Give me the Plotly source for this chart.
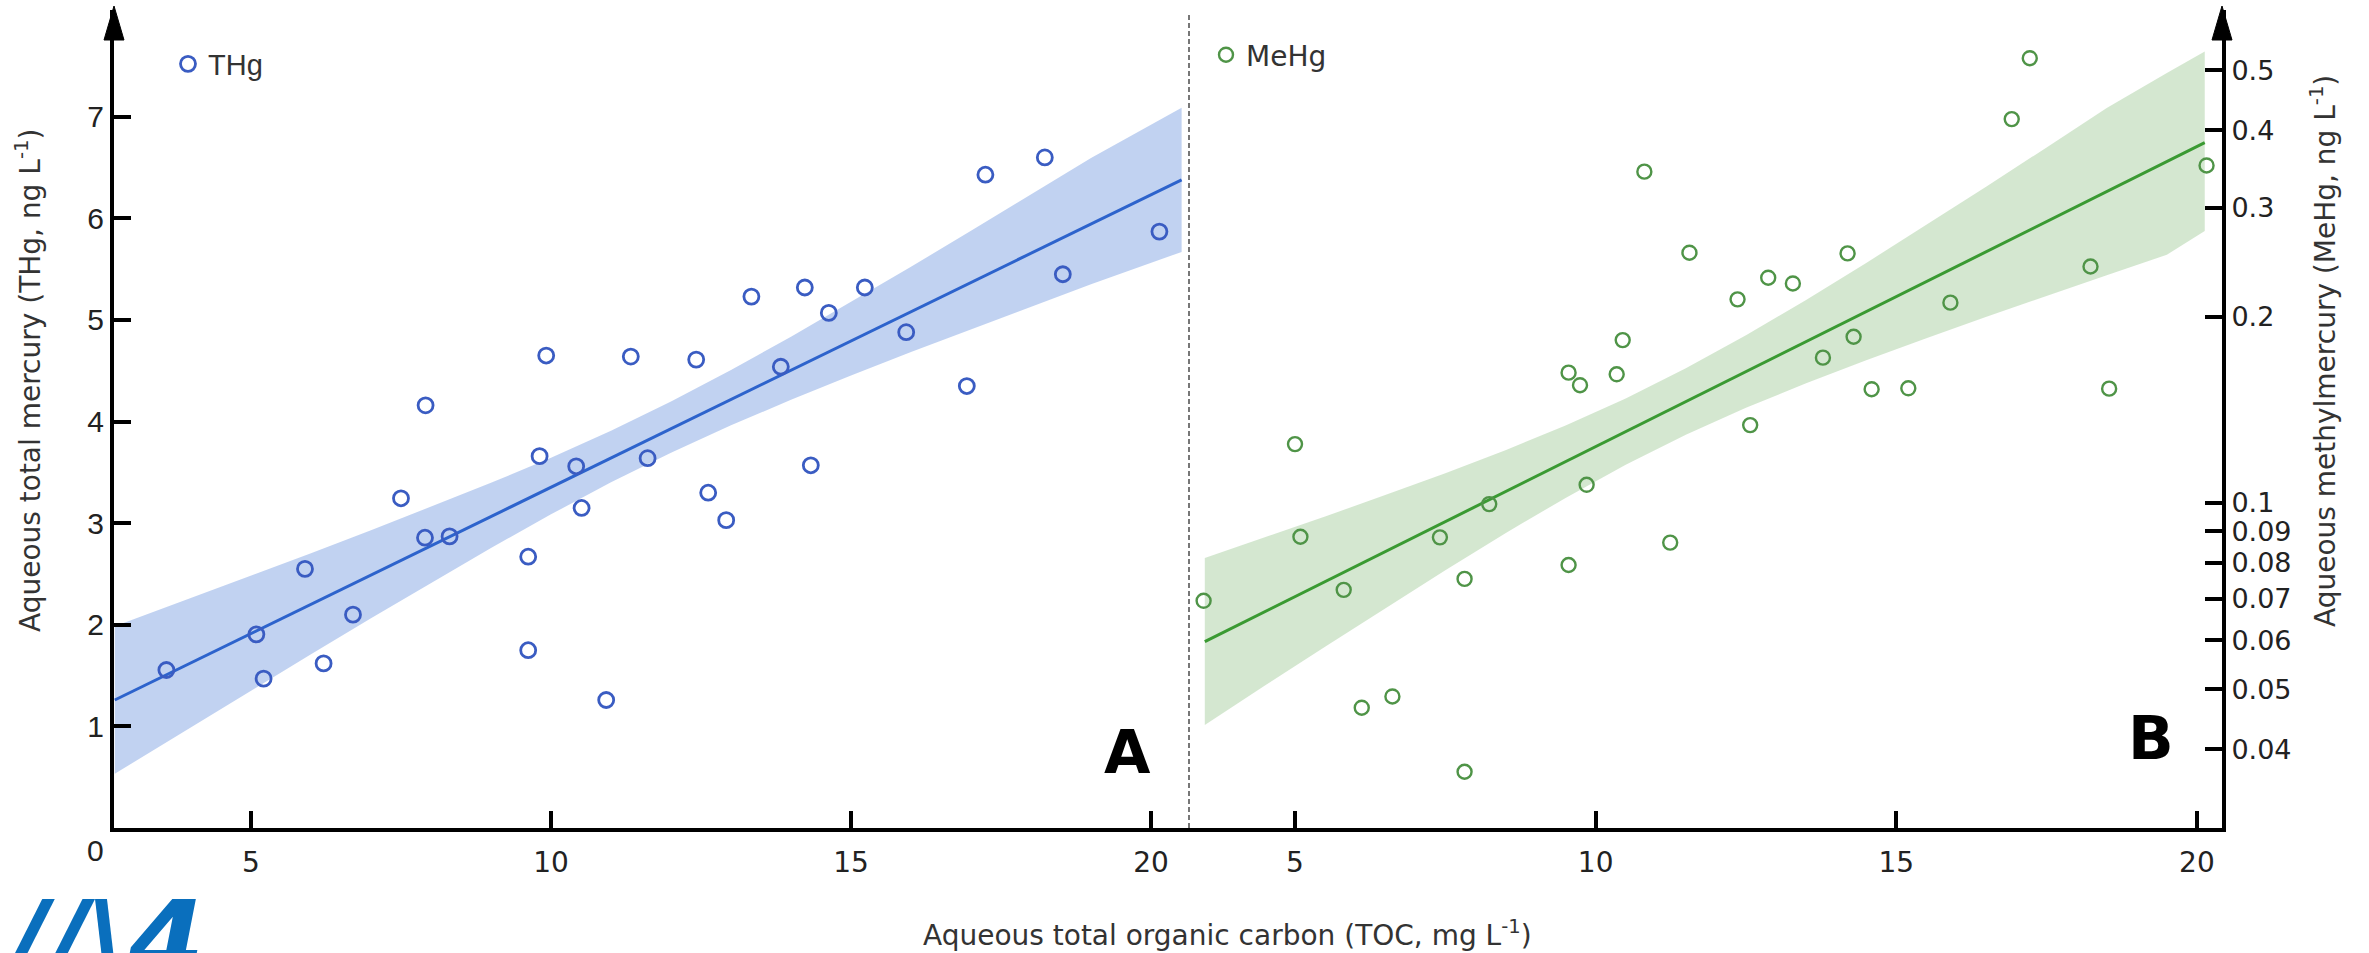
import plotly.graph_objects as go

# ---------------- data ----------------
toc_thg = [3.59, 5.09, 5.21, 5.90, 6.21, 6.70, 7.50, 7.90, 8.31, 9.62, 9.62, 9.81,
           10.42, 10.51, 10.92, 7.91, 9.92, 11.33, 12.42, 13.34, 14.23, 14.63, 15.23,
           13.83, 15.92, 16.93, 17.24, 18.23, 18.53, 20.14, 11.61, 12.62, 14.33, 12.92]
thg = [1.555, 1.906, 1.47, 2.55, 1.62, 2.10, 3.245, 2.857, 2.87, 2.67, 1.75, 3.66,
       3.56, 3.15, 1.26, 4.16, 4.65, 4.64, 4.61, 5.23, 5.32, 5.07, 5.32,
       4.54, 4.88, 4.35, 6.43, 6.60, 5.45, 5.87, 3.64, 3.30, 3.57, 3.03]

thg_fit_x = [2.73, 20.51]
thg_fit_y = [1.26, 6.38]
thg_band_x = [2.73, 4, 5, 6, 7, 8, 9, 10, 11, 12, 13, 14, 15, 16, 17, 18, 19, 20.51]
thg_band_lo = [0.534, 0.993, 1.353, 1.710, 2.064, 2.414, 2.757, 3.087, 3.402, 3.694,
               3.963, 4.214, 4.453, 4.684, 4.910, 5.132, 5.352, 5.67]
thg_band_hi = [1.986, 2.263, 2.483, 2.705, 2.930, 3.160, 3.397, 3.645, 3.910, 4.198,
               4.507, 4.836, 5.176, 5.524, 5.878, 6.235, 6.594, 7.09]

toc_mehg = [3.48, 5.00, 5.09, 5.81, 6.11, 6.62, 7.41, 7.82, 7.82, 8.23, 9.55, 9.55,
            9.74, 9.85, 10.35, 10.45, 10.81, 11.24, 11.56, 12.36, 12.57, 12.87, 13.28,
            13.78, 14.19, 14.29, 14.59, 15.20, 15.90, 16.92, 17.22, 18.23, 18.54, 20.16]
mehg = [0.0695, 0.1245, 0.0882, 0.0724, 0.0467, 0.0487, 0.088, 0.0754, 0.0368, 0.0996,
        0.0794, 0.1624, 0.155, 0.107, 0.1614, 0.1833, 0.343, 0.0863, 0.2537, 0.2133,
        0.1336, 0.2312, 0.2263, 0.1717, 0.2531, 0.1856, 0.1527, 0.1532, 0.2107, 0.417,
        0.523, 0.241, 0.153, 0.351]

mehg_fit_x = [3.5, 20.13]
mehg_fit_y = [0.0597, 0.382]
mehg_band_x = [3.5, 4.5, 5.5, 6.5, 7.5, 8.5, 9.5, 10.5, 11.5, 12.5, 13.5, 14.5,
               15.5, 16.5, 17.5, 18.5, 19.5, 20.13]
mehg_band_lo = [0.0438, 0.0507, 0.0586, 0.0676, 0.0779, 0.0894, 0.1019, 0.1153, 0.1289,
                0.1425, 0.1561, 0.1701, 0.1846, 0.1999, 0.2161, 0.2334, 0.2519, 0.275]
mehg_band_hi = [0.0815, 0.0880, 0.0951, 0.1030, 0.1117, 0.1217, 0.1334, 0.1475, 0.1650,
                0.1866, 0.2128, 0.2442, 0.2812, 0.3246, 0.3753, 0.4346, 0.4950, 0.536]

x_ticks = [5, 10, 15, 20]
thg_ticks = [1, 2, 3, 4, 5, 6, 7]
mehg_ticks = [0.04, 0.05, 0.06, 0.07, 0.08, 0.09, 0.1, 0.2, 0.3, 0.4, 0.5]
mehg_tick_text = ["0.04", "0.05", "0.06", "0.07", "0.08", "0.09", "0.1", "0.2", "0.3", "0.4", "0.5"]

# ---------------- styling / layout ----------------
W, H = 2369, 953
def px(x):
    return x / W
def py(y):
    return 1 - y / H

BLUE = "#3a5cc2"
BLUE_LINE = "#2d63cc"
BLUE_BAND = "rgba(190,208,240,0.95)"
GREEN = "#4f9447"
GREEN_LINE = "#3a9a32"
GREEN_BAND = "rgba(210,230,206,0.95)"

L0, MID, R1, TOP, BOT = 114, 1189, 2222, 10, 828

fig = go.Figure()

fig.add_trace(go.Scatter(
    x=thg_band_x + thg_band_x[::-1], y=thg_band_hi + thg_band_lo[::-1],
    fill="toself", fillcolor=BLUE_BAND, line=dict(width=0), mode="lines",
    hoverinfo="skip", showlegend=False, xaxis="x", yaxis="y"))
fig.add_trace(go.Scatter(
    x=thg_fit_x, y=thg_fit_y, mode="lines", line=dict(color=BLUE_LINE, width=3),
    showlegend=False, xaxis="x", yaxis="y"))
fig.add_trace(go.Scatter(
    x=toc_thg, y=thg, mode="markers", name="THg",
    marker=dict(symbol="circle-open", size=15, color=BLUE, line=dict(width=2.8)),
    xaxis="x", yaxis="y", legend="legend"))

fig.add_trace(go.Scatter(
    x=mehg_band_x + mehg_band_x[::-1], y=mehg_band_hi + mehg_band_lo[::-1],
    fill="toself", fillcolor=GREEN_BAND, line=dict(width=0), mode="lines",
    hoverinfo="skip", showlegend=False, xaxis="x2", yaxis="y2"))
fig.add_trace(go.Scatter(
    x=mehg_fit_x, y=mehg_fit_y, mode="lines", line=dict(color=GREEN_LINE, width=3),
    showlegend=False, xaxis="x2", yaxis="y2"))
fig.add_trace(go.Scatter(
    x=toc_mehg, y=mehg, mode="markers", name="MeHg",
    marker=dict(symbol="circle-open", size=14, color=GREEN, line=dict(width=2.4)),
    xaxis="x2", yaxis="y2", legend="legend2"))

axis_common = dict(showline=True, linecolor="black", linewidth=4, ticks="inside",
                   ticklen=17, tickwidth=4, tickcolor="black", showgrid=False,
                   zeroline=False, automargin=False)

fig.update_layout(
    width=W, height=H, autosize=False,
    margin=dict(l=0, r=0, t=0, b=0),
    paper_bgcolor="white", plot_bgcolor="white",
    font=dict(family="DejaVu Sans", color="#333"),
    xaxis=dict(domain=[px(L0), px(MID)], range=[2.717, 20.633], anchor="y",
               tickvals=x_ticks, tickfont=dict(size=28, color="#222"),
               ticklabelstandoff=6, **axis_common),
    yaxis=dict(domain=[py(BOT), py(TOP)], range=[0, 8.051], anchor="x", side="left",
               tickvals=thg_ticks,
               tickfont=dict(size=30, color="#222", family="Liberation Sans"),
               **axis_common),
    xaxis2=dict(domain=[px(MID), px(R1)], range=[3.237, 20.417], anchor="y2",
                tickvals=x_ticks, tickfont=dict(size=28, color="#222"),
                ticklabelstandoff=6, **axis_common),
    yaxis2=dict(domain=[py(BOT), py(TOP)], type="log", range=[-1.525, -0.2036],
                anchor="x2", side="right", tickvals=mehg_ticks, ticktext=mehg_tick_text,
                tickfont=dict(size=27, color="#222"), **axis_common),
    legend=dict(x=px(168), y=py(64), xanchor="left", yanchor="middle",
                bgcolor="rgba(0,0,0,0)", font=dict(size=29, family="Liberation Sans", color="#333"),
                itemsizing="trace"),
    legend2=dict(x=px(1206), y=py(55), xanchor="left", yanchor="middle",
                 bgcolor="rgba(0,0,0,0)", font=dict(size=28, color="#333"),
                 itemsizing="trace"),
)

shapes = []
# dotted divider
shapes.append(dict(type="line", xref="paper", yref="paper", x0=px(MID), x1=px(MID),
                   y0=py(BOT), y1=py(12), line=dict(color="#777", width=2, dash="5px,3px")))
# arrow heads on the two vertical axes
for ax_x in (L0, R1):
    shapes.append(dict(type="path", xref="paper", yref="paper",
                       path=f"M {px(ax_x)},{py(6)} L {px(ax_x - 10)},{py(40)} L {px(ax_x + 10)},{py(40)} Z",
                       fillcolor="black", line=dict(color="black", width=1)))
fig.update_layout(shapes=shapes)

def ann(text, x, y, size, xanchor="center", yanchor="middle", angle=0, family=None,
        color="#333"):
    f = dict(size=size, color=color)
    if family:
        f["family"] = family
    return dict(text=text, x=px(x), y=py(y), xref="paper", yref="paper",
                xanchor=xanchor, yanchor=yanchor, textangle=angle, showarrow=False, font=f)

annotations = [
    ann("Aqueous total mercury (THg, ng L<sup>-1</sup>)", 28, 381, 28, angle=-90),
    ann("Aqueous methylmercury (MeHg, ng L<sup>-1</sup>)", 2323, 351, 28, angle=-90),
    ann("Aqueous total organic carbon (TOC, mg L<sup>-1</sup>)", 1227, 933, 28),
    ann("0", 96, 850, 30, family="Liberation Sans", color="#222"),
    ann("<b>A</b>", 1127, 752, 60, color="black"),
    ann("<b>B</b>", 2151, 738, 60, color="black"),
    ann("<b><i>//\\4</i></b>", -6, 876, 110, xanchor="left", yanchor="top", color="#0a6fbd"),
]
fig.update_layout(annotations=annotations)

fig.write_html("out.html")
